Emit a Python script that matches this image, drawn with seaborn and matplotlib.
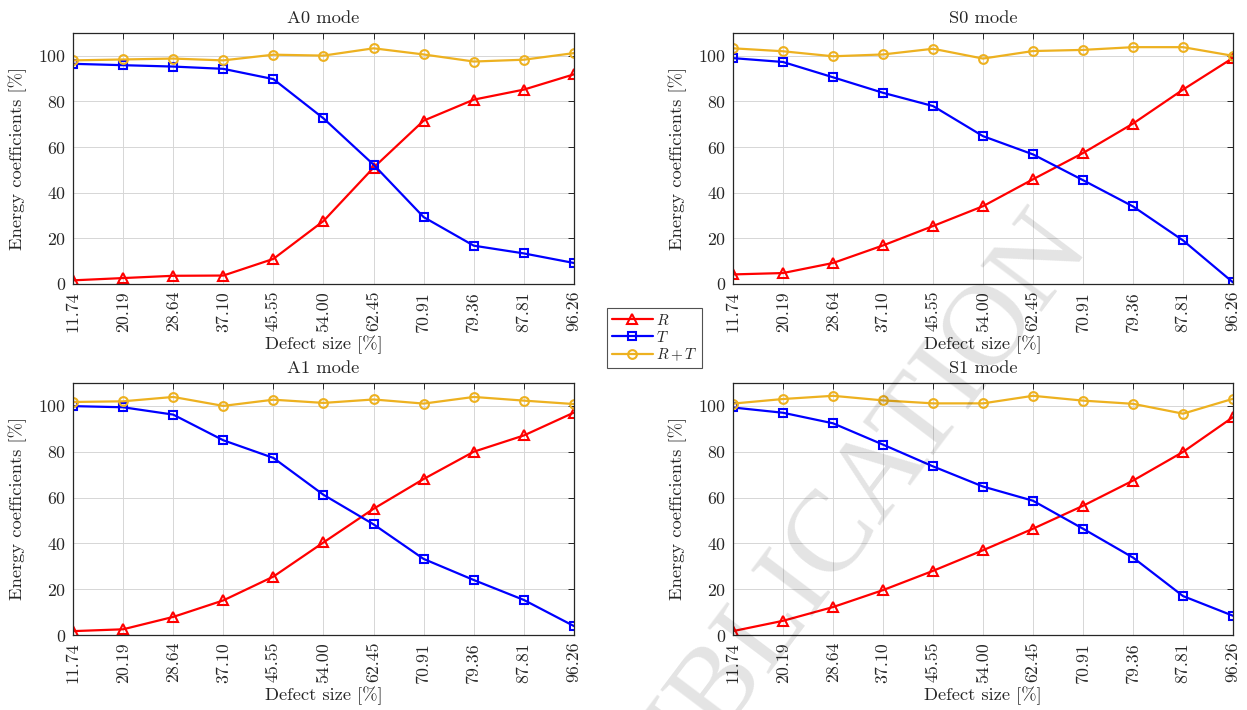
import numpy as np
import pandas as pd
import matplotlib
matplotlib.use("Agg")
import matplotlib.pyplot as plt
import seaborn as sns

# ---- data ----
defect_labels = ["11.74", "20.19", "28.64", "37.10", "45.55", "54.00",
                 "62.45", "70.91", "79.36", "87.81", "96.26"]
mode_titles = ["A0 mode", "S0 mode", "A1 mode", "S1 mode"]
series_names = ["$R$", "$T$", "$R+T$"]
y_ticks = [0, 20, 40, 60, 80, 100]

a0_R = [1.6, 2.6, 3.6, 3.7, 11.0, 27.6, 51.0, 71.6, 80.8, 85.2, 91.9]
a0_T = [96.5, 95.9, 95.3, 94.3, 89.8, 72.6, 52.3, 29.3, 16.8, 13.4, 9.2]
a0_RT = [98.0, 98.4, 98.8, 98.0, 100.5, 100.1, 103.3, 100.6, 97.5, 98.3, 101.2]

s0_R = [4.2, 4.8, 9.2, 16.9, 25.4, 34.1, 45.9, 57.4, 70.3, 85.2, 99.1]
s0_T = [99.0, 97.3, 90.6, 83.8, 78.0, 64.8, 56.8, 45.5, 34.0, 19.1, 0.7]
s0_RT = [103.3, 102.0, 99.8, 100.6, 103.1, 98.8, 102.1, 102.6, 103.8, 103.8, 100.0]

a1_R = [1.7, 2.5, 7.9, 15.1, 25.5, 40.4, 55.1, 68.1, 80.0, 87.1, 97.1]
a1_T = [99.9, 99.4, 96.2, 85.0, 77.3, 61.2, 48.3, 33.2, 24.0, 15.3, 3.9]
a1_RT = [101.7, 102.0, 103.9, 100.0, 102.7, 101.3, 102.8, 101.0, 103.9, 102.3, 100.8]

s1_R = [1.7, 6.2, 12.2, 19.6, 28.0, 37.0, 46.4, 56.4, 67.4, 79.9, 95.1]
s1_T = [99.3, 97.0, 92.4, 83.1, 73.6, 64.8, 58.6, 46.4, 33.8, 17.0, 8.4]
s1_RT = [101.0, 103.0, 104.4, 102.4, 101.1, 101.1, 104.4, 102.3, 100.9, 96.6, 103.1]

mode_data = [
    (a0_R, a0_T, a0_RT),
    (s0_R, s0_T, s0_RT),
    (a1_R, a1_T, a1_RT),
    (s1_R, s1_T, s1_RT),
]

# ---- style ----
sns.set_style("white")
plt.rcParams.update({
    "font.family": "serif",
    "font.serif": ["cmr10", "DejaVu Serif"],
    "mathtext.fontset": "cm",
    "axes.unicode_minus": False,
    "axes.formatter.use_mathtext": True,
    "font.size": 12.5,
})

colors = ["#FF0000", "#0000FF", "#EDB120"]
markers = ["^", "s", "o"]
msizes = [7.5, 5.5, 6.3]

fig = plt.figure(figsize=(12.47, 7.10), dpi=100)
positions = [
    [0.0585, 0.600, 0.4018, 0.3535],
    [0.5878, 0.600, 0.4010, 0.3535],
    [0.0585, 0.1056, 0.4018, 0.3550],
    [0.5878, 0.1056, 0.4010, 0.3550],
]

x_pos = np.arange(len(defect_labels))
handles = None
labels = None
for i, (title, series) in enumerate(zip(mode_titles, mode_data)):
    ax = fig.add_axes(positions[i])
    for name, vals, c, m, ms in zip(series_names, series, colors, markers, msizes):
        df = pd.DataFrame({"x": x_pos, "y": vals})
        sns.lineplot(data=df, x="x", y="y", ax=ax, color=c, marker=m,
                     markersize=ms, markerfacecolor="none", markeredgecolor=c,
                     markeredgewidth=1.5, linewidth=1.6, label=name)
    if handles is None:
        handles, labels = ax.get_legend_handles_labels()
    if ax.get_legend() is not None:
        ax.get_legend().remove()
    ax.set_xlim(0, len(defect_labels) - 1)
    ax.set_ylim(0, 110)
    ax.set_xticks(x_pos)
    ax.set_xticklabels(defect_labels, rotation=90)
    ax.set_yticks(y_ticks)
    ax.set_title(title, fontsize=13.3, pad=7.5)
    ax.set_xlabel("Defect size [%]", fontsize=13.3, labelpad=3)
    ax.set_ylabel("Energy coefficients [%]", fontsize=13.3, labelpad=8)
    ax.grid(True, color="#d6d6d6", linewidth=0.7)
    ax.tick_params(direction="in", length=4, width=0.7, top=True, right=True,
                   labelsize=12.8, colors="#262626", pad=5)
    for sp in ax.spines.values():
        sp.set_color("#262626")
        sp.set_linewidth(0.9)
    ax.set_axisbelow(True)

leg = fig.legend(handles, labels, loc="upper left", bbox_to_anchor=(0.4868, 0.566),
                 borderaxespad=0, frameon=True, fancybox=False, fontsize=11,
                 handlelength=2.7, handletextpad=0.2, borderpad=0.3,
                 labelspacing=0.12)
leg.get_frame().set_edgecolor("#262626")
leg.get_frame().set_linewidth(0.8)

fig.text(0.672, 0.250, "PUBLICATION", rotation=53, fontsize=84, color="black",
         family="Liberation Serif", fontweight="normal",
         alpha=0.11, ha="center", va="center", rotation_mode="anchor", zorder=100)

fig.savefig("out.png", dpi=100)
